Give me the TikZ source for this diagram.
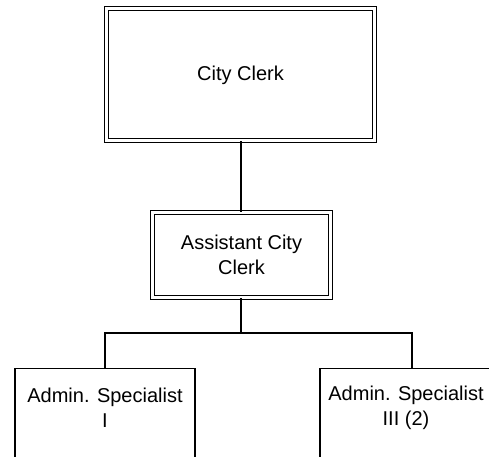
\documentclass[tikz,border=0pt]{standalone}
\usepackage{fontspec}
\setmainfont{Liberation Sans}
\begin{document}
\begin{tikzpicture}[x=1pt,y=-1pt,
  txt/.style={font=\fontsize{20}{25}\selectfont, align=center, inner sep=0pt},
  dbox/.style={draw, double, line width=1.3pt, double distance=2.6pt, inner sep=0pt},
  sbox/.style={draw, line width=1.2pt, inner sep=0pt},
  wire/.style={draw, line width=1.3pt}]
  \clip (0,0) rectangle (489,456);

  % top position
  \node[dbox, minimum width=268pt, minimum height=132pt] (clerk) at (240.5,74.5) {};
  \node[txt] (clerkt) at (240.5,75) {City Clerk};

  % assistant
  \node[dbox, minimum width=178pt, minimum height=85pt] (asst) at (241.5,255) {};
  \node[txt] (asstt) at (241.5,255) {Assistant City\\Clerk};

  % two specialist positions
  \node[sbox, minimum width=180pt, minimum height=140pt, anchor=north] (spa) at (105,368) {};
  \node[txt] (spat) at (105,408) {Admin. Specialist\\I};
  \node[sbox, minimum width=184pt, minimum height=140pt, anchor=north] (spb) at (412,368) {};
  \node[txt] (spbt) at (406,408) {Admin. Specialist\\III (2)};

  % reporting lines
  \coordinate (split) at (241,333);
  \path[wire] (clerk.south -| split) -- (asst.north -| split);
  \path[wire] (asst.south -| split) -- (split);
  \path[wire] (spa.north) |- (split) -| (spb.north);
\end{tikzpicture}
\end{document}
